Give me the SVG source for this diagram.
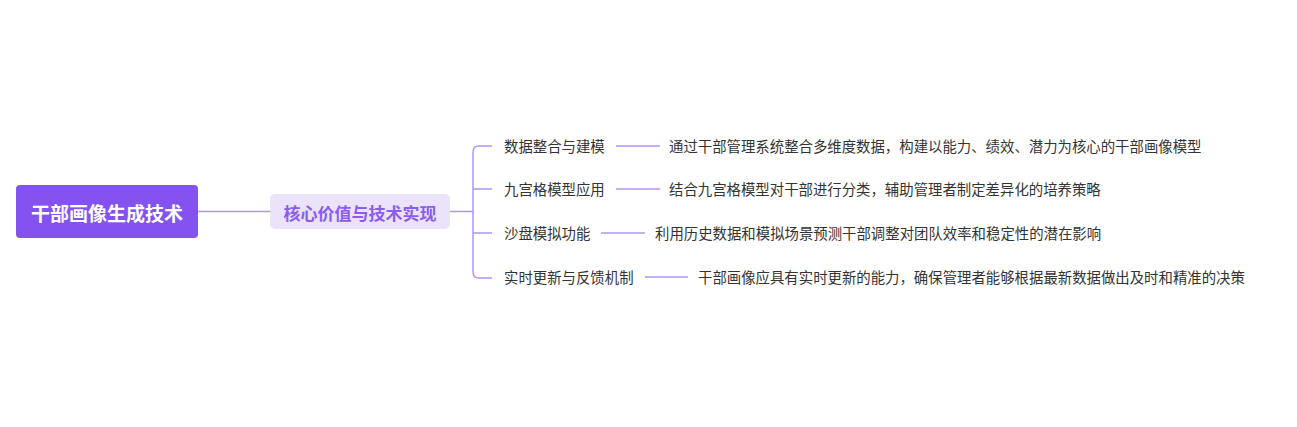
<svg xmlns="http://www.w3.org/2000/svg" width="1297" height="427" viewBox="0 0 1297 427">
<style>
.c{fill:none;stroke:#b095f7;stroke-width:1.5}
.t{font-family:"Noto Sans CJK SC",sans-serif;font-size:14.4px;fill:#333;dominant-baseline:central}
</style>
<rect width="1297" height="427" fill="#fff"/>
<g id="connectors">
<path class="c" d="M198 211.5H270"/>
<path class="c" d="M450 211.5H473"/>
<path class="c" d="M492 146H479Q473 146 473 152V272Q473 278 479 278H492"/>
<path class="c" d="M473 189H492M473 233H492"/>
<path class="c" d="M616 146H660M616 189H660M601 233H645M645 277H688"/>
</g>
<g id="root"><rect x="16" y="185" width="182" height="53" rx="4" fill="#8352f0"/><text x="107" y="212" text-anchor="middle" style="font-family:'Noto Sans CJK SC',sans-serif;font-size:19px;font-weight:bold;fill:#fff;dominant-baseline:central">干部画像生成技术</text></g>
<g id="core"><rect x="270" y="194" width="180" height="35" rx="5" fill="#ebe2fc"/><text x="360" y="212" text-anchor="middle" style="font-family:'Noto Sans CJK SC',sans-serif;font-size:17px;font-weight:bold;fill:#8a5cf0;dominant-baseline:central">核心价值与技术实现</text></g>
<g id="n1"><text class="t" x="504" y="145">数据整合与建模</text></g>
<g id="n2"><text class="t" x="504" y="188">九宫格模型应用</text></g>
<g id="n3"><text class="t" x="504" y="232">沙盘模拟功能</text></g>
<g id="n4"><text class="t" x="504" y="276">实时更新与反馈机制</text></g>
<g id="l1"><text class="t" x="669" y="145">通过干部管理系统整合多维度数据，构建以能力、绩效、潜力为核心的干部画像模型</text></g>
<g id="l2"><text class="t" x="669" y="188">结合九宫格模型对干部进行分类，辅助管理者制定差异化的培养策略</text></g>
<g id="l3"><text class="t" x="655" y="232">利用历史数据和模拟场景预测干部调整对团队效率和稳定性的潜在影响</text></g>
<g id="l4"><text class="t" x="698" y="276">干部画像应具有实时更新的能力，确保管理者能够根据最新数据做出及时和精准的决策</text></g>
</svg>
